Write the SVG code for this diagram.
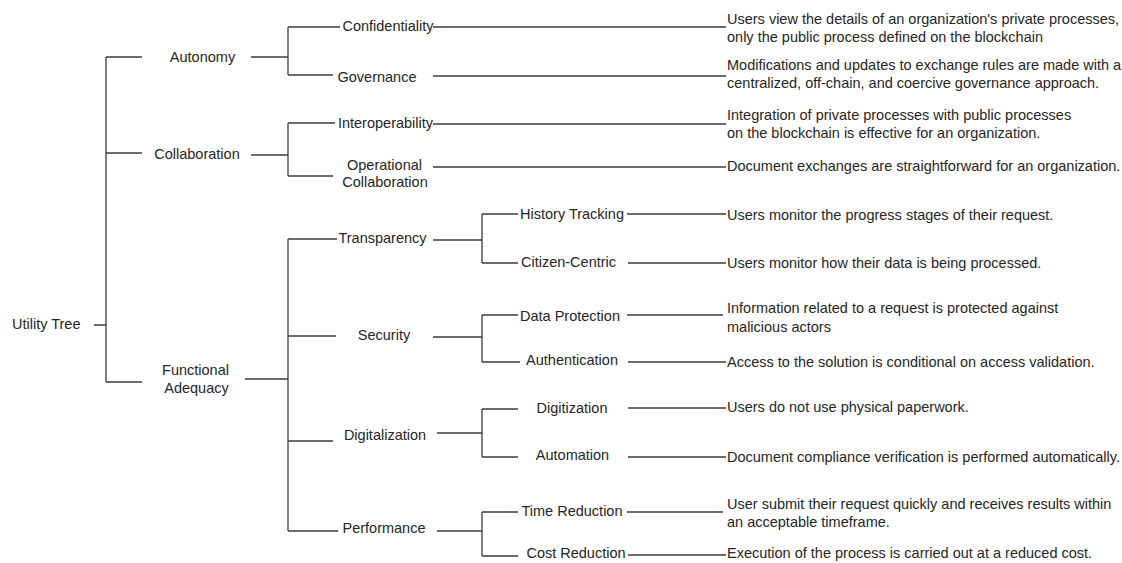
<svg xmlns="http://www.w3.org/2000/svg" width="1122" height="563" viewBox="0 0 1122 563">
  <style>
    .lbl { font-family: "Liberation Sans", Arial, sans-serif; font-size: 14.5px; fill: #262626; text-anchor: middle; }
    .lft { font-family: "Liberation Sans", Arial, sans-serif; font-size: 14.5px; fill: #262626; }
    .desc { font-family: "Liberation Sans", Arial, sans-serif; font-size: 14.5px; fill: #262626; }
    .edge { fill: none; stroke: #3c3c3c; stroke-width: 1.3; }
  </style>
  <rect width="1122" height="563" fill="#ffffff"/>

  <!-- tree connectors -->
  <g id="connectors" class="edge">
    <!-- root -->
    <path d="M94,325 H106 M106,57 V382 M106,57 H142 M106,153 H142 M106,382 H142"/>
    <!-- Autonomy -->
    <path d="M251,57 H288 M288,27 V75 M288,27 H340 M288,75 H333"/>
    <!-- Collaboration -->
    <path d="M251,155 H288 M288,123 V176 M288,123 H335 M288,176 H333"/>
    <!-- Functional Adequacy -->
    <path d="M245,379 H288 M288,239 V531 M288,239 H337 M288,336 H336 M288,441 H333 M288,531 H338"/>
    <!-- second level to descriptions -->
    <path d="M433,27 H726 M433,76 H726 M433,124 H726 M433,167 H726"/>
    <!-- Transparency -->
    <path d="M433,240 H482 M482,214 V263 M482,214 H518 M482,263 H518"/>
    <!-- Security -->
    <path d="M433,337 H482 M482,315 V362 M482,315 H518 M482,362 H520"/>
    <!-- Digitalization -->
    <path d="M437,433 H482 M482,409 V457 M482,409 H518 M482,457 H518"/>
    <!-- Performance -->
    <path d="M437,531 H482 M482,512 V556 M482,512 H518 M482,556 H518"/>
    <!-- third level to descriptions -->
    <path d="M627,214 H726 M628,263 H726 M627,315 H723 M628,362 H726 M628,408 H726 M628,457 H726 M627,512 H723 M628,555 H726"/>
  </g>

  <g id="utility-tree"><text class="lft" x="12" y="329">Utility Tree</text></g>

  <g id="autonomy"><text class="lbl" x="202.5" y="62">Autonomy</text></g>
  <g id="collaboration"><text class="lbl" x="197" y="159">Collaboration</text></g>
  <g id="functional-adequacy">
    <text class="lbl" x="195.5" y="375">Functional</text>
    <text class="lbl" x="196.5" y="393">Adequacy</text>
  </g>

  <g id="confidentiality"><text class="lbl" x="388" y="31">Confidentiality</text></g>
  <g id="governance"><text class="lbl" x="377" y="82">Governance</text></g>
  <g id="interoperability"><text class="lbl" x="385.5" y="128">Interoperability</text></g>
  <g id="operational-collaboration">
    <text class="lbl" x="384.5" y="170">Operational</text>
    <text class="lbl" x="385" y="187">Collaboration</text>
  </g>
  <g id="transparency"><text class="lbl" x="382.5" y="243">Transparency</text></g>
  <g id="security"><text class="lbl" x="384" y="340">Security</text></g>
  <g id="digitalization"><text class="lbl" x="385" y="440">Digitalization</text></g>
  <g id="performance"><text class="lbl" x="384" y="533">Performance</text></g>

  <g id="history-tracking"><text class="lbl" x="572" y="219">History Tracking</text></g>
  <g id="citizen-centric"><text class="lbl" x="568.5" y="267">Citizen-Centric</text></g>
  <g id="data-protection"><text class="lbl" x="570" y="321">Data Protection</text></g>
  <g id="authentication"><text class="lbl" x="572" y="365">Authentication</text></g>
  <g id="digitization"><text class="lbl" x="572" y="413">Digitization</text></g>
  <g id="automation"><text class="lbl" x="572.5" y="460">Automation</text></g>
  <g id="time-reduction"><text class="lbl" x="572" y="516">Time Reduction</text></g>
  <g id="cost-reduction"><text class="lbl" x="576" y="558">Cost Reduction</text></g>

  <g id="desc-confidentiality">
    <text class="desc" x="727" y="24">Users view the details of an organization's private processes,</text>
    <text class="desc" x="727" y="42">only the public process defined on the blockchain</text>
  </g>
  <g id="desc-governance">
    <text class="desc" x="727" y="70">Modifications and updates to exchange rules are made with a</text>
    <text class="desc" x="727" y="88">centralized, off-chain, and coercive governance approach.</text>
  </g>
  <g id="desc-interoperability">
    <text class="desc" x="727" y="120">Integration of private processes with public processes</text>
    <text class="desc" x="727" y="138">on the blockchain is effective for an organization.</text>
  </g>
  <g id="desc-operational-collaboration"><text class="desc" x="727" y="171">Document exchanges are straightforward for an organization.</text></g>
  <g id="desc-history-tracking"><text class="desc" x="727" y="220">Users monitor the progress stages of their request.</text></g>
  <g id="desc-citizen-centric"><text class="desc" x="727" y="268">Users monitor how their data is being processed.</text></g>
  <g id="desc-data-protection">
    <text class="desc" x="727" y="313">Information related to a request is protected against</text>
    <text class="desc" x="727" y="332">malicious actors</text>
  </g>
  <g id="desc-authentication"><text class="desc" x="727" y="367">Access to the solution is conditional on access validation.</text></g>
  <g id="desc-digitization"><text class="desc" x="727" y="412">Users do not use physical paperwork.</text></g>
  <g id="desc-automation"><text class="desc" x="727" y="462">Document compliance verification is performed automatically.</text></g>
  <g id="desc-time-reduction">
    <text class="desc" x="727" y="509">User submit their request quickly and receives results within</text>
    <text class="desc" x="727" y="527">an acceptable timeframe.</text>
  </g>
  <g id="desc-cost-reduction"><text class="desc" x="727" y="558">Execution of the process is carried out at a reduced cost.</text></g>
</svg>
